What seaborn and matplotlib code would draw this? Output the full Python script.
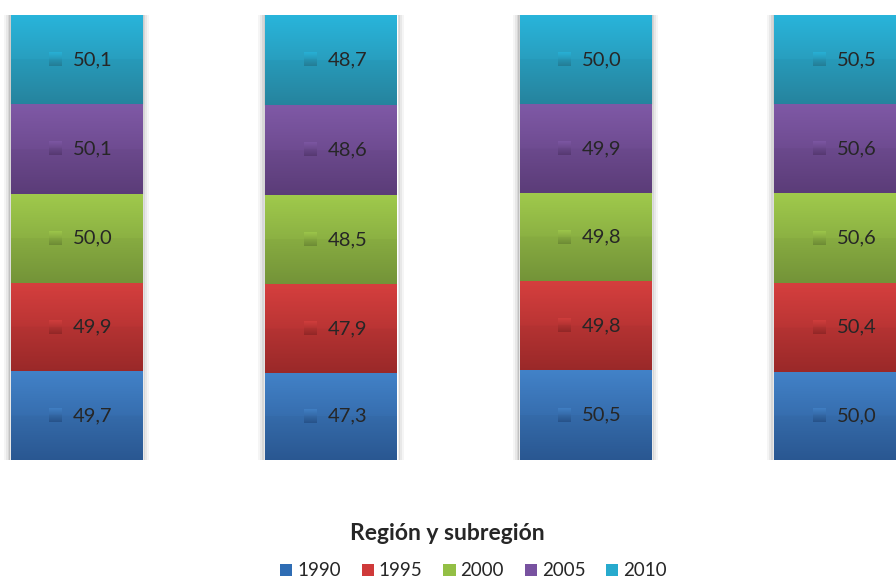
import numpy as np
import pandas as pd
import matplotlib
matplotlib.use("Agg")
import matplotlib.pyplot as plt
import matplotlib.colors as mcolors
from matplotlib.patches import Patch, Rectangle
import seaborn as sns

# Datos: porcentaje por región y año (las etiquetas de región no se ven en el gráfico)
regiones = ["Región 1", "Región 2", "Región 3", "Región 4"]
anios = ["1990", "1995", "2000", "2005", "2010"]
v1990 = [49.7, 47.3, 50.5, 50.0]
v1995 = [49.9, 47.9, 49.8, 50.4]
v2000 = [50.0, 48.5, 49.8, 50.6]
v2005 = [50.1, 48.6, 49.9, 50.6]
v2010 = [50.1, 48.7, 50.0, 50.5]

# colores (arriba, abajo) del degradado y color de leyenda
col_top = {"1990": "#4282c8", "1995": "#d53f3e", "2000": "#a0ca4c", "2005": "#7f59a6", "2010": "#29b5db"}
col_bot = {"1990": "#2b5a96", "1995": "#9f2a2a", "2000": "#77983a", "2005": "#5e3e7c", "2010": "#2788a3"}
col_leg = {"1990": "#2f6db4", "1995": "#cf3a3a", "2000": "#93bf45", "2005": "#7852a0", "2010": "#27aacd"}

valores = {"1990": v1990, "1995": v1995, "2000": v2000, "2005": v2005, "2010": v2010}

filas = []
for i, reg in enumerate(regiones):
    total = sum(valores[a][i] for a in anios)
    acum = 0.0
    for a in anios:
        pct = valores[a][i] / total * 100
        filas.append({"region": reg, "anio": a, "valor": valores[a][i],
                      "base": acum, "acum": acum + pct})
        acum += pct
df = pd.DataFrame(filas)

sns.set_theme(style="white")
plt.rcParams["font.family"] = ["Lato", "DejaVu Sans"]

fig = plt.figure(figsize=(8.96, 5.79), dpi=100)
ax = fig.add_axes([0, 0.2055, 1, 0.7686])

ancho = 0.515
px_x = 1 / 254.5
px_y = 100 / 445

# sombra suave alrededor de las barras
for i in range(len(regiones)):
    for k, alpha in zip([7, 5, 3, 1.5], [0.04, 0.05, 0.07, 0.10]):
        ax.add_patch(Rectangle((i - ancho / 2 - k * px_x, -k * 0.6 * px_y),
                               ancho + 2 * k * px_x, 100 + k * 0.6 * px_y,
                               facecolor="black", edgecolor="none", alpha=alpha, zorder=0))

# barras apiladas: se dibuja el acumulado de arriba hacia abajo
for a in reversed(anios):
    sub = df[df["anio"] == a]
    sns.barplot(data=sub, x="region", y="acum", color=col_leg[a], width=ancho,
                order=regiones, ax=ax, saturation=1, zorder=1)


def degradado(top, bot, n=100):
    t = np.linspace(0, 1, n)[:, None]
    g = top * (1 - t) + bot * t
    g[n // 2:] *= 0.97
    return g[:, None, :]


# degradado de cada segmento + etiqueta con su clave
for _, r in df.iterrows():
    i = regiones.index(r["region"])
    top = np.array(mcolors.to_rgb(col_top[r["anio"]]))
    bot = np.array(mcolors.to_rgb(col_bot[r["anio"]]))
    ax.imshow(degradado(top, bot), extent=(i - ancho / 2, i + ancho / 2, r["base"], r["acum"]),
              aspect="auto", origin="upper", zorder=2, interpolation="bilinear")
    yc = (r["base"] + r["acum"]) / 2
    # clave: cuadro pequeño con degradado
    mtop = top * 0.97
    mbot = bot * 0.95
    ax.imshow(degradado(mtop, mbot, 20),
              extent=(i - 27.5 * px_x, i - 14.5 * px_x, yc - 6.5 * px_y, yc + 6.5 * px_y),
              aspect="auto", origin="upper", zorder=3, interpolation="bilinear")
    ax.text(i - 3.5 * px_x, yc, f"{r['valor']:.1f}".replace(".", ","),
            ha="left", va="center", fontsize=14.5, color="#262626", zorder=4)

ax.set_xlim(-76.5 / 254.5, (896 - 76.5) / 254.5)
ax.set_ylim(0, 100)
ax.set_xlabel("")
ax.set_ylabel("")
ax.set_xticks([])
ax.set_yticks([])
for s in ax.spines.values():
    s.set_visible(False)
ax.patch.set_alpha(0)

fig.text(0.499, 1 - 533 / 579, "Región y subregión", ha="center", va="center",
         fontsize=16.5, fontweight="bold", color="#262626")

handles = [Patch(facecolor=col_leg[a], edgecolor="none", label=a) for a in anios]
fig.legend(handles=handles, loc="center", bbox_to_anchor=(0.5285, 1 - 571 / 579),
           ncol=5, frameon=False, fontsize=13.5, handlelength=0.65, handleheight=0.65,
           handletextpad=0.25, columnspacing=1.12, borderpad=0, labelcolor="#262626")

fig.savefig("out.png", dpi=100)
